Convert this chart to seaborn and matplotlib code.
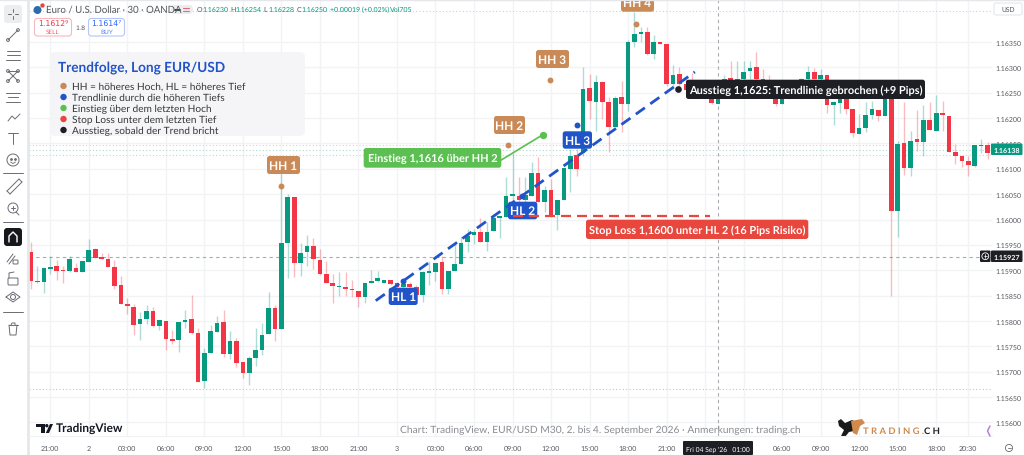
import matplotlib
matplotlib.use("Agg")
import matplotlib.pyplot as plt
from matplotlib.patches import FancyBboxPatch, Circle, Polygon
import numpy as np
import pandas as pd
import seaborn as sns

# EUR/USD M30 candles
opens = [1.15935,1.15876,1.15876,1.15903,1.15909,1.15900,1.15899,1.15904,1.15897,1.15917,
         1.15942,1.15927,1.15922,1.15906,1.15870,1.15834,1.15828,1.15793,1.15804,1.15819,
         1.15789,1.15800,1.15765,1.15762,1.15797,1.15803,1.15776,1.15681,1.15736,1.15779,
         1.15797,1.15734,1.15760,1.15719,1.15697,1.15727,1.15743,1.15774,1.15825,1.15784,
         1.15953,1.16044,1.15915,1.15935,1.15948,1.15920,1.15893,1.15874,1.15866,1.15866,
         1.15862,1.15859,1.15847,1.15874,1.15878,1.15875,1.15881,1.15875,1.15866,1.15872,
         1.15866,1.15851,1.15895,1.15896,1.15916,1.15862,1.15898,1.15912,1.15956,1.15969,
         1.15975,1.15955,1.15977,1.16003,1.16004,1.16047,1.16046,1.16039,1.16047,1.16091,
         1.16034,1.16059,1.16009,1.16039,1.16100,1.16127,1.16132,1.16259,1.16232,1.16272,
         1.16231,1.16183,1.16241,1.16227,1.16351,1.16366,1.16370,1.16326,1.16351,1.16346,
         1.16268,1.16286,1.16267,1.16257,1.16248,1.16244,1.16238,1.16228,1.16244,1.16280,
         1.16257,1.16278,1.16292,1.16300,1.16277,1.16267,1.16247,1.16228,1.16239,1.16244,
         1.16251,1.16277,1.16290,1.16277,1.16285,1.16225,1.16230,1.16238,1.16217,1.16169,
         1.16180,1.16207,1.16215,1.16205,1.16247,1.16017,1.16150,1.16101,1.16159,1.16153,
         1.16196,1.16174,1.16211,1.16205,1.16134,1.16125,1.16115,1.16105,1.16144,1.16146,
         1.16135]
highs = [1.15956,1.15909,1.15906,1.15929,1.15921,1.15908,1.15929,1.15914,1.15919,1.15962,
         1.15943,1.15934,1.15934,1.15920,1.15889,1.15845,1.15833,1.15817,1.15832,1.15827,
         1.15801,1.15800,1.15782,1.15797,1.15822,1.15851,1.15786,1.15746,1.15791,1.15810,
         1.15822,1.15780,1.15766,1.15719,1.15730,1.15786,1.15795,1.15858,1.15832,1.16092,
         1.16050,1.16044,1.15953,1.15970,1.15964,1.15942,1.15919,1.15892,1.15896,1.15897,
         1.15881,1.15859,1.15874,1.15901,1.15899,1.15881,1.15881,1.15876,1.15883,1.15876,
         1.15870,1.15899,1.15919,1.15914,1.15929,1.15898,1.15952,1.15968,1.15981,1.15981,
         1.16002,1.15995,1.16011,1.16005,1.16083,1.16132,1.16083,1.16083,1.16114,1.16124,
         1.16067,1.16080,1.16039,1.16101,1.16139,1.16139,1.16300,1.16287,1.16284,1.16274,
         1.16241,1.16244,1.16274,1.16353,1.16409,1.16379,1.16379,1.16364,1.16351,1.16346,
         1.16305,1.16300,1.16277,1.16289,1.16254,1.16250,1.16244,1.16251,1.16285,1.16313,
         1.16313,1.16313,1.16313,1.16331,1.16297,1.16284,1.16257,1.16251,1.16257,1.16264,
         1.16280,1.16303,1.16298,1.16297,1.16285,1.16234,1.16251,1.16244,1.16217,1.16208,
         1.16231,1.16234,1.16215,1.16267,1.16257,1.16155,1.16231,1.16175,1.16216,1.16226,
         1.16232,1.16246,1.16234,1.16205,1.16149,1.16125,1.16125,1.16146,1.16159,1.16153,
         1.16147]
lows = [1.15863,1.15875,1.15856,1.15893,1.15881,1.15874,1.15897,1.15896,1.15896,1.15917,
        1.15925,1.15922,1.15906,1.15863,1.15833,1.15814,1.15772,1.15763,1.15794,1.15788,
        1.15782,1.15742,1.15755,1.15738,1.15786,1.15774,1.15679,1.15667,1.15736,1.15778,
        1.15728,1.15725,1.15710,1.15688,1.15673,1.15712,1.15732,1.15774,1.15760,1.15784,
        1.15884,1.15887,1.15889,1.15909,1.15902,1.15891,1.15874,1.15835,1.15849,1.15850,
        1.15847,1.15828,1.15835,1.15874,1.15876,1.15875,1.15870,1.15863,1.15850,1.15857,
        1.15850,1.15837,1.15870,1.15878,1.15853,1.15853,1.15898,1.15912,1.15935,1.15952,
        1.15955,1.15937,1.15977,1.15964,1.16004,1.16007,1.16021,1.16027,1.16047,1.16034,
        1.16014,1.16004,1.15980,1.16039,1.16054,1.16085,1.16125,1.16198,1.16175,1.16198,
        1.16134,1.16182,1.16173,1.16213,1.16340,1.16351,1.16325,1.16316,1.16346,1.16263,
        1.16257,1.16251,1.16254,1.16244,1.16241,1.16240,1.16228,1.16228,1.16243,1.16256,
        1.16254,1.16270,1.16277,1.16276,1.16264,1.16247,1.16223,1.16228,1.16238,1.16241,
        1.16249,1.16257,1.16264,1.16257,1.16210,1.16187,1.16210,1.16208,1.16162,1.16169,
        1.16172,1.16198,1.16195,1.16205,1.15850,1.15965,1.16088,1.16086,1.16136,1.16126,
        1.16176,1.16174,1.16175,1.16134,1.16109,1.16103,1.16086,1.16103,1.16132,1.16119,
        1.16132]
closes = [1.15878,1.15879,1.15904,1.15907,1.15898,1.15898,1.15923,1.15896,1.15919,1.15940,
          1.15925,1.15922,1.15906,1.15868,1.15834,1.15829,1.15792,1.15803,1.15819,1.15789,
          1.15801,1.15764,1.15760,1.15797,1.15801,1.15776,1.15680,1.15737,1.15780,1.15796,
          1.15735,1.15760,1.15717,1.15697,1.15726,1.15742,1.15773,1.15825,1.15784,1.15954,
          1.16044,1.15914,1.15933,1.15948,1.15922,1.15893,1.15874,1.15868,1.15868,1.15863,
          1.15860,1.15847,1.15874,1.15878,1.15885,1.15881,1.15872,1.15866,1.15872,1.15866,
          1.15851,1.15896,1.15897,1.15914,1.15862,1.15898,1.15912,1.15954,1.15967,1.15975,
          1.15956,1.15975,1.16002,1.16005,1.16046,1.16049,1.16039,1.16049,1.16091,1.16034,
          1.16058,1.16007,1.16039,1.16101,1.16125,1.16100,1.16257,1.16233,1.16272,1.16231,
          1.16183,1.16240,1.16228,1.16351,1.16366,1.16369,1.16326,1.16351,1.16346,1.16267,
          1.16285,1.16267,1.16256,1.16248,1.16244,1.16248,1.16230,1.16247,1.16278,1.16257,
          1.16278,1.16290,1.16298,1.16277,1.16267,1.16251,1.16228,1.16238,1.16244,1.16251,
          1.16278,1.16290,1.16277,1.16284,1.16226,1.16231,1.16238,1.16217,1.16171,1.16181,
          1.16207,1.16217,1.16205,1.16247,1.16017,1.16149,1.16101,1.16155,1.16152,1.16196,
          1.16177,1.16211,1.16206,1.16134,1.16125,1.16115,1.16107,1.16146,1.16146,1.16131,
          1.16138]

price_ticks = [1.15600,1.15650,1.15700,1.15750,1.15800,1.15850,1.15900,1.15950,
               1.16000,1.16050,1.16100,1.16150,1.16200,1.16250,1.16300,1.16350]
time_pos = [3,9,15,21,27,33,39,45,51,57,63,69,75,81,87,93,99,105,111,117,123,129,135,141,146]
# bars 105 and 111 sit under the crosshair date tag
time_labels = ["21:00","2","03:00","06:00","09:00","12:00","15:00","18:00",
               "21:00","3","03:00","06:00","09:00","12:00","15:00","18:00",
               "21:00","","","06:00","09:00","12:00","15:00","18:00","20:30"]

hh_bar = [39, 74.25, 80.9, 94.2]
hh_price = [1.16067, 1.16147, 1.16276, 1.16386]
hl_bar = [57.9, 76.5, 85]
hl_price = [1.15878, 1.16046, 1.16186]
trend_bar = [53.7, 103.4]
trend_price = [1.15840, 1.16291]
stop_bar = [75.1, 105.8]
stop_price = [1.16007, 1.16007]
entry_bar = [73.2, 79.7]
entry_price = [1.16117, 1.16167]
exit_bar = [100.8]
exit_price = [1.16257]

UP = "#089981"
DOWN = "#F23645"
BROWN = "#C98A58"
BLUE = "#2154C8"
GREEN = "#5CBF52"
RED = "#E8473D"
BLACK = "#1E1F24"
INK = "#6A6C72"

sns.set_theme(style="white")
plt.rcParams["font.family"] = ["Lato", "DejaVu Sans"]
plt.rcParams["text.hinting"] = "no_hinting"

W, H = 1024, 456
fig = plt.figure(figsize=(W / 100, H / 100), dpi=100, facecolor="white")

# pixel layer for the trading platform chrome
top = fig.add_axes([0, 0, 1, 1], zorder=10)
top.set_xlim(0, W)
top.set_ylim(H, 0)
top.axis("off")
top.patch.set_alpha(0)
pix = top.transData

# main price panel, px 29..992 / 0..437
ax = fig.add_axes([29 / W, 1 - 437 / H, (992 - 29) / W, 437 / H], zorder=1)
ax.set_xlim((29 - 31) / 6.42, (992 - 31) / 6.42)
ax.set_ylim(1.16 + (220.5 - 437) * 1.972e-5, 1.16 + 220.5 * 1.972e-5)

df = pd.DataFrame({"o": opens, "h": highs, "l": lows, "c": closes})
df["bar"] = np.arange(len(df))
df["color"] = np.where(df["c"] >= df["o"], UP, DOWN)

ax.set_xticks(time_pos)
ax.set_xticklabels(time_labels, fontsize=5.1, color="#55585f")
ax.yaxis.tick_right()
ax.set_yticks(price_ticks)
ax.set_yticklabels(["%.5f" % p for p in price_ticks], fontsize=5.0, color="#55585f")
ax.tick_params(axis="both", length=0)
ax.tick_params(axis="x", pad=6.5)
ax.tick_params(axis="y", pad=2.5)
ax.grid(True, color="#F2F3F5", lw=1)
ax.set_axisbelow(True)
sns.despine(ax=ax, left=True, bottom=True, right=True, top=True)

# dotted order levels, last price and crosshair
for level, col in [(1.16412, "#CFD1D6"), (1.16146, "#F6C6CB"), (1.16138, "#A8DAD0"),
                   (1.16128, "#C9CDF2"), (1.15666, "#C4C6CC")]:
    ax.axhline(level, color=col, lw=0.8, ls=(0, (1, 2)), zorder=1)
ax.axhline(1.15927, color="#A9ABB0", lw=0.8, ls=(0, (3, 3)), zorder=1)
ax.axvline(107, color="#A9ABB0", lw=0.8, ls=(0, (3, 3)), zorder=1)

# candles
ax.vlines(df["bar"], df["l"], df["h"], colors=df["color"], lw=1, alpha=0.33, zorder=2)
ax.bar(df["bar"], (df["c"] - df["o"]).abs().clip(lower=0.00003), bottom=df[["o", "c"]].min(axis=1),
       width=0.72, color=df["color"], lw=0, zorder=3)

# trend line, stop, entry
sns.lineplot(x=trend_bar, y=trend_price, color=BLUE, lw=2.0, linestyle=(0, (4, 2.4)),
             estimator=None, errorbar=None, ax=ax, zorder=4)
sns.lineplot(x=entry_bar, y=entry_price, color=GREEN, lw=1.2, estimator=None, errorbar=None,
             ax=ax, zorder=4)
sns.scatterplot(x=hh_bar, y=hh_price, color=BROWN, s=18, lw=0, ax=ax, zorder=5)
sns.scatterplot(x=hl_bar, y=hl_price, color=BLUE, s=18, lw=0, ax=ax, zorder=5)
sns.scatterplot(x=[entry_bar[1]], y=[entry_price[1]], color=GREEN, s=28, lw=0, ax=ax, zorder=5)
sns.scatterplot(x=exit_bar, y=exit_price, color=BLACK, s=23, lw=0, ax=ax, zorder=7)
ax.set_xlabel("")
ax.set_ylabel("")


def pill(x0, y0, x1, y1, col, txt, size=8, weight="bold", z=6):
    ax.add_patch(FancyBboxPatch((x0, y0), x1 - x0, y1 - y0, boxstyle="round,pad=0,rounding_size=2.5",
                                fc=col, ec="none", transform=pix, zorder=z, clip_on=False))
    ax.text((x0 + x1) / 2, (y0 + y1) / 2 + 0.3, txt, color="white", fontsize=size, fontweight=weight,
            ha="center", va="center", transform=pix, zorder=z + 0.1, clip_on=False)


pill(267, 157, 300, 175, BROWN, "HH 1", 8.6)
pill(494, 117, 525, 135, BROWN, "HH 2", 8.6)
pill(536, 51, 569, 69, BROWN, "HH 3", 8.6)
pill(621, -6, 654, 12.7, BROWN, "HH 4", 8.6)
pill(388.7, 288.7, 417.7, 306, BLUE, "HL 1", 8.6)
pill(508, 202.7, 537.3, 220.3, BLUE, "HL 2", 8.6)
pill(562.7, 132.3, 592, 149.7, BLUE, "HL 3", 8.6)
pill(363.7, 149, 501.3, 168.7, GREEN, "Einstieg 1,1616 über HH 2", 7.9)
pill(586, 220.7, 808.3, 240, RED, "Stop Loss 1,1600 unter HL 2 (16 Pips Risiko)", 7.9)
pill(686, 80.7, 925, 100, BLACK, "Ausstieg 1,1625: Trendlinie gebrochen (+9 Pips)", 7.9)

# stop line sits over the HL 2 tag
sns.lineplot(x=stop_bar, y=stop_price, color=RED, lw=1.6, linestyle=(0, (4.5, 2.7)),
             estimator=None, errorbar=None, ax=ax, zorder=8)

# legend panel
top.add_patch(FancyBboxPatch((50, 53), 255, 84, boxstyle="round,pad=0,rounding_size=5",
                             fc="#F5F5F7", ec="none", alpha=0.95))
top.text(58, 67.5, "Trendfolge, Long EUR/USD", color=BLUE, fontsize=9.8, fontweight="bold", va="center")
legend_rows = [(BROWN, "HH = höheres Hoch, HL = höheres Tief"),
               (BLUE, "Trendlinie durch die höheren Tiefs"),
               (GREEN, "Einstieg über dem letzten Hoch"),
               (RED, "Stop Loss unter dem letzten Tief"),
               (BLACK, "Ausstieg, sobald der Trend bricht")]
for k, (col, txt) in enumerate(legend_rows):
    yy = 87 + k * 11
    top.add_patch(Circle((63.5, yy), 3.2, fc=col, ec="none"))
    top.text(72, yy + 0.2, txt, color="#35373C", fontsize=7.3, va="center")

# header line
top.add_patch(Circle((37.5, 11), 4, fc="#2B6CB0", ec="none"))
top.add_patch(Circle((42.5, 6.5), 2.2, fc="#E8473D", ec="none"))
top.text(46, 10, "Euro / U.S. Dollar · 30 · OANDA", color="#55585f", fontsize=6.9, va="center")
top.add_patch(FancyBboxPatch((171, 6), 22, 9, boxstyle="round,pad=0,rounding_size=4.5", fc="#ECEDEF", ec="none"))
top.plot([175, 180], [10.5, 10.5], color="#333", lw=1.3)
top.plot([183, 189], [9, 9], color="#E06C80", lw=0.8)
top.plot([183, 189], [12, 12], color="#E06C80", lw=0.8)
xx = 197
for tag, val in [("O", "1.16230"), ("H", "1.16254"), ("L", "1.16228"), ("C", "1.16250")]:
    top.text(xx, 10, tag, color="#55585f", fontsize=5, va="center")
    top.text(xx + 5, 10, val, color=UP, fontsize=5, va="center")
    xx += 33.3
top.text(330.5, 10, "+0.00019 (+0.02%)", color=UP, fontsize=5, va="center")
top.text(390, 10, "Vol705", color=UP, fontsize=5, va="center")

top.add_patch(FancyBboxPatch((34.5, 19.5), 37, 17.5, boxstyle="round,pad=0,rounding_size=3", fc="white", ec="#F7B8BE", lw=0.8))
top.add_patch(FancyBboxPatch((88.5, 19.5), 36, 17.5, boxstyle="round,pad=0,rounding_size=3", fc="white", ec="#B6C7F5", lw=0.8))
top.text(53, 24.5, "1.1612⁹", color=DOWN, fontsize=5.6, ha="center", va="center", family=["DejaVu Sans"])
top.text(53, 32.5, "SELL", color=DOWN, fontsize=4.6, ha="center", va="center", alpha=0.8)
top.text(106.5, 24.5, "1.1614⁷", color="#2962FF", fontsize=5.6, ha="center", va="center", family=["DejaVu Sans"])
top.text(106.5, 32.5, "BUY", color="#2962FF", fontsize=4.6, ha="center", va="center", alpha=0.8)
top.text(80, 28, "1.8", color="#55585f", fontsize=4.6, ha="center", va="center", family=["DejaVu Sans"])

# right scale tags
top.add_patch(FancyBboxPatch((994, 4), 28, 12, boxstyle="round,pad=0,rounding_size=2", fc="white", ec="#E2E3E6", lw=0.7))
top.text(1001, 10, "USD", color="#55585f", fontsize=4.8, va="center")
top.add_patch(FancyBboxPatch((991, 144.5), 31.5, 11.5, boxstyle="round,pad=0,rounding_size=1", fc=UP, ec="none"))
top.text(1006.7, 150.5, "1.16138", color="white", fontsize=5.1, fontweight="bold", ha="center", va="center")
top.add_patch(FancyBboxPatch((991, 251.5), 31.5, 11.5, boxstyle="round,pad=0,rounding_size=1", fc=BLACK, ec="none"))
top.text(1006.7, 257.5, "1.15927", color="white", fontsize=5.1, fontweight="bold", ha="center", va="center")
top.add_patch(FancyBboxPatch((980, 251.5), 10.5, 11.5, boxstyle="round,pad=0,rounding_size=1", fc=BLACK, ec="none"))
top.add_patch(Circle((985.3, 257.2), 3.4, fc="none", ec="white", lw=0.6))
top.plot([983.5, 987.1], [257.2, 257.2], color="white", lw=0.5)
top.plot([985.3, 985.3], [255.4, 259], color="white", lw=0.5)

# time scale tag and panel edges
top.add_patch(FancyBboxPatch((683, 442), 70, 14, boxstyle="round,pad=0,rounding_size=1", fc=BLACK, ec="none"))
top.text(718, 449.5, "Fri 04 Sep '26   01:00", color="white", fontsize=4.9, ha="center", va="center")
top.plot([28, 28], [0, H], color="#E6E7EA", lw=2)
top.plot([0, W], [0.5, 0.5], color="#E6E7EA", lw=1)
top.plot([28, 992], [437.5, 437.5], color="#F0F1F3", lw=0.8)
top.add_patch(Circle((1009, 449), 3.6, fc="none", ec="#66696f", lw=0.6))
top.plot([1007.5, 1010.5], [449, 449], color="#66696f", lw=0.6)
top.plot([990, 987.5, 990], [427, 432, 437], color="#B67FE0", lw=1.1)

# watermark, caption, brand
top.add_patch(Polygon([(36, 425), (45, 425), (45, 434), (41, 434), (41, 428.5), (36, 428.5)], fc="#131722", ec="none"))
top.add_patch(Circle((46.8, 426.7), 1.7, fc="#131722", ec="none"))
top.add_patch(Polygon([(50, 425), (53, 425), (49, 434), (45.8, 434)], fc="#131722", ec="none"))
top.text(56, 429.5, "TradingView", color="#131722", fontsize=8.6, fontweight="bold", va="center")
top.text(600, 430.5, "Chart: TradingView, EUR/USD M30, 2. bis 4. September 2026 · Anmerkungen: trading.ch",
         color="#8A8C91", fontsize=7.35, ha="center", va="center")
top.add_patch(Polygon([(838, 422), (841, 420), (845, 424), (852, 421), (858, 424), (856, 428), (854, 432),
                       (849, 433), (845, 438), (841, 437), (844, 431), (839, 427)], fc="#1A1A1A", ec="none"))
top.add_patch(Polygon([(851, 422), (862, 420), (865, 424), (860, 427), (857, 436), (853, 434)], fc="#CF8A4C", ec="none"))
top.text(863, 431.5, "T R A D I N G .", color="#CF8A4C", fontsize=6.8, fontweight="bold", va="center")
top.text(924.5, 431.5, "C H", color="#1E1F24", fontsize=6.8, fontweight="bold", va="center")

# drawing toolbar, rough line icons
top.add_patch(FancyBboxPatch((4, 6), 18, 18, boxstyle="round,pad=0,rounding_size=3", fc="#ECEDEF", ec="none"))
line_icons = [
    [(8, 15), (11, 15)], [(15, 15), (18, 15)], [(13, 10), (13, 13)], [(13, 17), (13, 20)],
    [(8, 41), (18, 31)],
    [(7, 52), (20, 52)], [(7, 56), (20, 56)], [(6, 61), (20, 61)],
    [(8, 72), (13, 77)], [(18, 72), (13, 77)], [(8, 82), (13, 77)], [(18, 82), (13, 77)], [(8, 72), (18, 72)],
    [(6, 94), (20, 94)], [(8, 98), (18, 98)], [(6, 103), (20, 103)],
    [(8, 122), (12, 117), (15, 120), (20, 115)],
    [(8, 134), (18, 134)], [(13, 134), (13, 145)],
    [(7, 192), (19, 180)], [(10, 195), (22, 183)], [(7, 192), (10, 195)], [(19, 180), (22, 183)],
    [(16, 213), (19, 216)], [(11, 209), (15, 209)], [(13, 207), (13, 211)],
    [(7, 263), (13, 255)], [(9, 265), (15, 257)],
    [(9, 326), (18, 326)], [(9, 326), (10, 336), (16, 336), (17, 326)], [(11, 326), (12, 324), (15, 324), (15, 326)],
    [(3, 174), (23, 174)], [(3, 223), (23, 223)], [(3, 313), (23, 313)],
]
for seg in line_icons:
    xs, ys = zip(*seg)
    top.plot(xs, ys, color=INK, lw=0.7)
for cx, cy, r in [(8, 41, 1.4), (18, 31, 1.4), (8, 72, 1.4), (18, 72, 1.4), (8, 82, 1.4), (18, 82, 1.4),
                  (13, 161, 6), (13, 209, 5), (13, 298, 2.5)]:
    top.add_patch(Circle((cx, cy), r, fc="none", ec=INK, lw=0.7))
top.plot([10.8], [159.5], "o", color=INK, ms=1)
top.plot([15.2], [159.5], "o", color=INK, ms=1)
top.plot([10.5, 13, 15.5], [163, 164.5, 163], color=INK, lw=0.6)
top.add_patch(FancyBboxPatch((4, 229), 18, 18, boxstyle="round,pad=0,rounding_size=3", fc="#17181C", ec="none"))
top.plot([9, 9, 13, 17, 17], [243, 237, 233, 237, 243], color="white", lw=1)
top.add_patch(FancyBboxPatch((13, 261), 5, 4, boxstyle="round,pad=0,rounding_size=1", fc="none", ec=INK, lw=0.7))
top.add_patch(FancyBboxPatch((8, 279), 10, 7, boxstyle="round,pad=0,rounding_size=1", fc="none", ec=INK, lw=0.7))
top.plot([9, 9, 14], [279, 274, 273], color=INK, lw=0.7)
top.plot([6, 13, 20, 13, 6], [298, 293, 298, 303, 298], color=INK, lw=0.7)

fig.savefig("out.png", dpi=100)
